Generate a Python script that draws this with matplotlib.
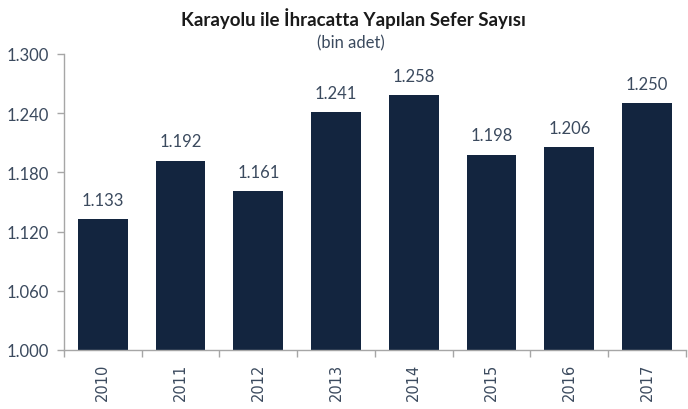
import matplotlib
matplotlib.use('Agg')
from matplotlib import pyplot as plt
import numpy as np

# data (bin adet)
years = ['2010', '2011', '2012', '2013', '2014', '2015', '2016', '2017']
trips = [1133, 1192, 1161, 1241, 1258, 1198, 1206, 1250]
y_ticks = [1000, 1060, 1120, 1180, 1240, 1300]

bar_color = '#13253f'
text_color = '#3b4a5e'
spine_color = '#a6a6a6'
narrow = ['Lato', 'DejaVu Sans']


def fmt(v):
    # turkish thousands separator
    return f'{v:,}'.replace(',', '.')


fig = plt.figure(figsize=(6.88, 4.10), dpi=100, facecolor='white')
ax = fig.add_axes([0.093, 0.144, 0.904, 0.722])

x = np.arange(len(years))
ax.bar(x, trips, width=0.64, color=bar_color, zorder=2)

# value labels above bars
for xi, v in zip(x, trips):
    ax.annotate(fmt(v), (xi, v), xytext=(0, 8), textcoords='offset points',
                ha='center', va='bottom', fontsize=12, color=text_color,
                family=narrow)

ax.set_xlim(-0.5, len(years) - 0.5)
ax.set_ylim(1000, 1300)
ax.set_yticks(y_ticks)
ax.set_yticklabels([fmt(t) for t in y_ticks], fontsize=12, color=text_color,
                   family=narrow)

# category labels in the middle, tick marks between categories
ax.set_xticks(x)
ax.set_xticklabels(years, rotation=90, fontsize=10.5, color=text_color)
ax.set_xticks(np.arange(len(years) + 1) - 0.5, minor=True)
ax.tick_params(axis='x', which='major', length=0, pad=9)
ax.tick_params(axis='x', which='minor', length=5, color=spine_color, width=1)
ax.tick_params(axis='y', length=5, color=spine_color, width=1, pad=6)

for side in ['top', 'right']:
    ax.spines[side].set_visible(False)
for side in ['left', 'bottom']:
    ax.spines[side].set_color(spine_color)
    ax.spines[side].set_linewidth(1)

fig.text(0.513, 0.955, 'Karayolu ile İhracatta Yapılan Sefer Sayısı', ha='center',
         va='center', fontsize=13.5, fontweight='bold', color='#1a1a1a', family=narrow)
fig.text(0.51, 0.893, '(bin adet)', ha='center', va='center', fontsize=12,
         color=text_color, family=narrow)

fig.savefig('out.png', dpi=100, facecolor='white')
